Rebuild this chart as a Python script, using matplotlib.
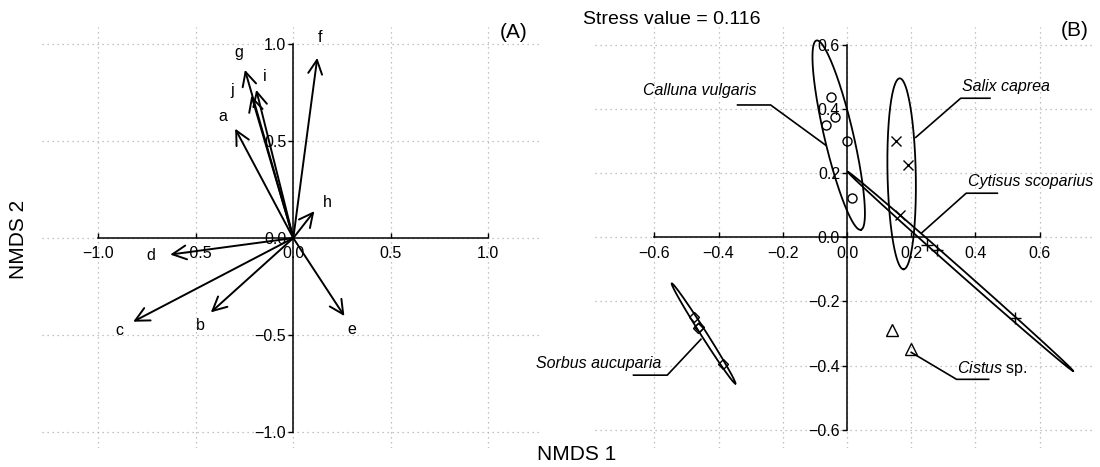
import numpy as np
import matplotlib
matplotlib.use('Agg')
import matplotlib.pyplot as plt

plt.rcParams['font.family'] = ['Liberation Sans', 'DejaVu Sans']
plt.rcParams['mathtext.fontset'] = 'custom'
plt.rcParams['mathtext.rm'] = 'Liberation Sans'
plt.rcParams['mathtext.it'] = 'Liberation Sans:italic'

# ---------------- Panel A : fitted vectors ----------------
vec_names = ['a', 'b', 'c', 'd', 'e', 'f', 'g', 'h', 'i', 'j']
vec_x = [-0.298, -0.423, -0.821, -0.631, 0.262, 0.123, -0.248, 0.108, -0.190, -0.215]
vec_y = [0.564, -0.383, -0.431, -0.085, -0.402, 0.929, 0.867, 0.139, 0.764, 0.735]
vec_lab_x = [-0.362, -0.479, -0.893, -0.731, 0.300, 0.137, -0.280, 0.175, -0.145, -0.316]
vec_lab_y = [0.628, -0.453, -0.475, -0.089, -0.470, 1.034, 0.954, 0.182, 0.831, 0.760]
ticks_A = [-1.0, -0.5, 0.0, 0.5, 1.0]

# ---------------- Panel B : site scores by species ----------------
calluna_x = [-0.049, -0.036, -0.065, 0.000, 0.016]
calluna_y = [0.436, 0.375, 0.351, 0.299, 0.122]
cistus_x = [0.141, 0.200]
cistus_y = [-0.289, -0.349]
cytisus_x = [0.250, 0.281, 0.523]
cytisus_y = [-0.025, -0.041, -0.253]
salix_x = [0.154, 0.191, 0.166]
salix_y = [0.301, 0.225, 0.068]
sorbus_x = [-0.476, -0.463, -0.460, -0.387]
sorbus_y = [-0.248, -0.283, -0.280, -0.395]
ticks_B = [-0.6, -0.4, -0.2, 0.0, 0.2, 0.4, 0.6]

# ellipses: major-axis end points and semi-minor length
ell_names = ['Calluna', 'Salix', 'Cytisus', 'Sorbus']
ell_x1 = [-0.095, 0.164, 0.002, -0.546]
ell_y1 = [0.613, 0.495, 0.204, -0.144]
ell_x2 = [0.043, 0.176, 0.704, -0.348]
ell_y2 = [0.023, -0.100, -0.417, -0.456]
ell_b = [0.045, 0.044, 0.008, 0.009]

stress = 0.116

fig = plt.figure(figsize=(11, 4.67), dpi=100)
W, H = 1100, 467
axA = fig.add_axes([41.7 / W, 1 - 448 / H, (540 - 41.7) / W, 421 / H])
axB = fig.add_axes([595 / W, 1 - 448 / H, 498 / W, 421 / H])


def fmt(t):
    return f'{t:.1f}'.replace('-', '\u2212')


def style_axis(ax, ticks, lim_x, lim_y):
    ax.set_xlim(*lim_x)
    ax.set_ylim(*lim_y)
    for s in ['top', 'right']:
        ax.spines[s].set_visible(False)
    for s in ['left', 'bottom']:
        ax.spines[s].set_position(('data', 0))
        ax.spines[s].set_bounds(ticks[0], ticks[-1])
        ax.spines[s].set_linewidth(1.1)
    ax.set_xticks(ticks)
    ax.set_yticks(ticks)
    ax.set_xticklabels([fmt(t) for t in ticks])
    ax.set_yticklabels([fmt(t) for t in ticks])
    ax.tick_params(axis='x', direction='in', length=3.5, width=1.0, pad=6, labelsize=11.5)
    ax.tick_params(axis='y', direction='out', length=3.5, width=1.0, pad=1.5, labelsize=11.5)
    ax.grid(True, linestyle=(0, (1, 3)), color='#b0b0b0', linewidth=0.9)
    ax.set_axisbelow(True)
    ax.patch.set_alpha(0)


style_axis(axA, ticks_A, (-1.29, 1.265), (-1.082, 1.088))
style_axis(axB, ticks_B, (-0.785, 0.766), (-0.657, 0.655))

# Panel A arrows
for n, x, y, lx, ly in zip(vec_names, vec_x, vec_y, vec_lab_x, vec_lab_y):
    axA.annotate('', xy=(x, y), xytext=(0, 0),
                 arrowprops=dict(arrowstyle='->,head_length=1.0,head_width=0.5',
                                 lw=1.4, color='black', shrinkA=0, shrinkB=0))
    axA.text(lx, ly, n, ha='center', va='center', fontsize=11.5)

# Panel B ellipses
t = np.linspace(0, 2 * np.pi, 300)
for x1, y1, x2, y2, b in zip(ell_x1, ell_y1, ell_x2, ell_y2, ell_b):
    cx, cy = (x1 + x2) / 2, (y1 + y2) / 2
    dx, dy = (x2 - x1) / 2, (y2 - y1) / 2
    a = np.hypot(dx, dy)
    ux, uy = dx / a, dy / a
    vx, vy = -uy, ux
    ex = cx + a * np.cos(t) * ux + b * np.sin(t) * vx
    ey = cy + a * np.cos(t) * uy + b * np.sin(t) * vy
    axB.plot(ex, ey, color='black', lw=1.3)

mk = dict(color='black', linestyle='none', markerfacecolor='none', markeredgewidth=1.0)
axB.plot(calluna_x, calluna_y, marker='o', markersize=6.5, **mk)
axB.plot(cistus_x, cistus_y, marker='^', markersize=8, **mk)
axB.plot(cytisus_x, cytisus_y, marker='+', markersize=9, **mk)
axB.plot(salix_x, salix_y, marker='x', markersize=7, **mk)
axB.plot(sorbus_x, sorbus_y, marker='D', markersize=5.5, **mk)

# labels with leader lines
lead = dict(color='black', lw=1.2)
sp_fs = 11.5
axB.plot([-0.341, -0.238, -0.067], [0.412, 0.412, 0.287], **lead)
axB.text(-0.46, 0.456, 'Calluna vulgaris', style='italic', ha='center', va='center', fontsize=sp_fs)

axB.plot([0.445, 0.354, 0.214], [0.433, 0.433, 0.311], **lead)
axB.text(0.495, 0.469, 'Salix caprea', style='italic', ha='center', va='center', fontsize=sp_fs)

axB.plot([0.468, 0.371, 0.232], [0.137, 0.137, 0.013], **lead)
axB.text(0.376, 0.172, 'Cytisus scoparius', style='italic', ha='left', va='center', fontsize=sp_fs)

axB.plot([-0.665, -0.560, -0.455], [-0.430, -0.430, -0.318], **lead)
axB.text(-0.580, -0.393, 'Sorbus aucuparia', style='italic', ha='right', va='center', fontsize=sp_fs)

axB.plot([0.200, 0.341, 0.441], [-0.359, -0.443, -0.443], **lead)
axB.text(0.341, -0.41, r'$\mathit{Cistus}$ sp.', ha='left', va='center', fontsize=sp_fs)

# figure texts
fig.text(583 / W, 1 - 20 / H, f'Stress value = {stress:.3f}', ha='left', va='center', fontsize=14)
fig.text(514 / W, 1 - 32 / H, '(A)', ha='center', va='center', fontsize=15)
fig.text(1075 / W, 1 - 31 / H, '(B)', ha='center', va='center', fontsize=15)
fig.text(19 / W, 1 - 239 / H, 'NMDS 2', rotation=90, ha='center', va='center', fontsize=15)
fig.text(577 / W, 1 - 455 / H, 'NMDS 1', ha='center', va='center', fontsize=15)

fig.savefig('out.png', dpi=100)
